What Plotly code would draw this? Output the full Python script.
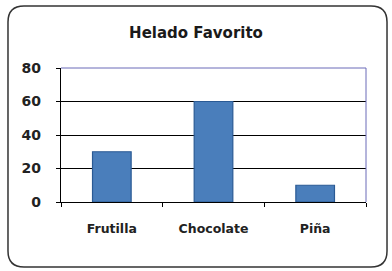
import plotly.graph_objects as go

categories = ["Frutilla", "Chocolate", "Piña"]
values = [30, 60, 10]
title_text = "Helado Favorito"

W, H = 392, 271
L, R, T, B = 61, 26, 68, 69
pw, ph = W - L - R, H - T - B

fig = go.Figure(go.Bar(
    x=categories, y=values, width=0.38,
    marker=dict(color="#4a7ebb", line=dict(color="#2a5a94", width=1.2)),
))

def P(x, y):
    a, b = (x - L) / pw, (H - B - y) / ph
    return f"{a:.4f},{b:.4f}"

# rounded outer frame
x0, y0, x1, y1, r = 8, 6, 387, 267, 16
path = (f"M {P(x0 + r, y0)} L {P(x1 - r, y0)} Q {P(x1, y0)} {P(x1, y0 + r)} "
        f"L {P(x1, y1 - r)} Q {P(x1, y1)} {P(x1 - r, y1)} "
        f"L {P(x0 + r, y1)} Q {P(x0, y1)} {P(x0, y1 - r)} "
        f"L {P(x0, y0 + r)} Q {P(x0, y0)} {P(x0 + r, y0)} Z")

fig.add_shape(type="path", path=path, xref="paper", yref="paper",
              line=dict(color="#333333", width=1.5), layer="below")
# top and right border of plot area (blue-ish)
fig.add_shape(type="line", xref="paper", yref="paper", x0=0, x1=1, y0=1, y1=1,
              line=dict(color="#6a6ab8", width=1))
fig.add_shape(type="line", xref="paper", yref="paper", x0=1, x1=1, y0=0, y1=1,
              line=dict(color="#6a6ab8", width=1))

fig.update_layout(
    width=W, height=H,
    margin=dict(l=L, r=R, t=T, b=B),
    paper_bgcolor="white", plot_bgcolor="white",
    showlegend=False,
    title=dict(text=title_text, x=0.5, xanchor="center", y=1 - 33 / H, yanchor="middle",
               font=dict(family="DejaVu Sans", size=15, color="#1a1a1a", weight="bold")),
    font=dict(family="DejaVu Sans", color="#1a1a1a"),
)
fig.update_xaxes(
    showline=True, linecolor="black", linewidth=1.2,
    ticks="outside", tickson="boundaries", ticklen=4, tickcolor="black",
    tickfont=dict(size=12.5, weight="bold", color="#222"),
    ticklabelstandoff=15, showgrid=False,
)
fig.update_yaxes(
    range=[0, 80], dtick=20, showline=True, linecolor="black", linewidth=1.2,
    ticks="outside", ticklen=4, tickcolor="black",
    showgrid=True, gridcolor="black", gridwidth=1,
    tickfont=dict(size=14, weight="bold", color="#222"),
    ticklabelstandoff=12, zeroline=False,
)

fig.write_html("out.html", config={"displayModeBar": False},
               post_script="document.body.style.margin='0';document.body.style.overflow='hidden';")
